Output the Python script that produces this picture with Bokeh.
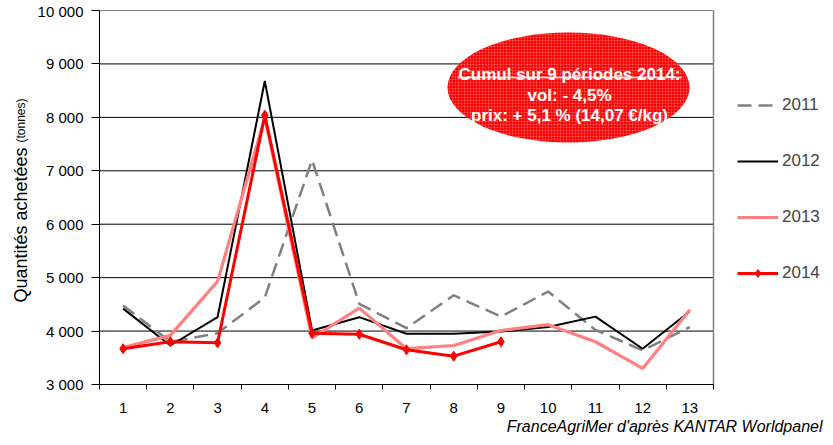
from math import pi
from bokeh.plotting import figure
from bokeh.models import FixedTicker, Legend, LegendItem, Label, Range1d, Title
from bokeh.embed import file_html
from bokeh.resources import INLINE

# ---- data ----
periods = list(range(1, 14))
period_labels = [str(i) for i in periods]
y_ticks = [3000, 4000, 5000, 6000, 7000, 8000, 9000, 10000]
y_tick_labels = ["3 000", "4 000", "5 000", "6 000", "7 000", "8 000", "9 000", "10 000"]

v2011 = [4480, 3800, 3960, 4630, 7200, 4510, 4055, 4670, 4270, 4740, 4020, 3640, 4075]
v2012 = [4420, 3730, 4260, 8680, 4010, 4260, 3950, 3950, 3990, 4075, 4270, 3670, 4370]
v2013 = [3690, 3920, 4930, 7990, 3870, 4430, 3670, 3730, 4010, 4120, 3800, 3300, 4400]
v2014 = [3670, 3800, 3780, 8040, 3960, 3940, 3650, 3530, 3800]
periods_2014 = periods[:len(v2014)]

note_lines = ["Cumul sur 9 périodes 2014:", "vol: - 4,5%", "prix: + 5,1 % (14,07 €/kg)"]
y_title_main = "Quantités achetées "
y_title_unit = "(tonnes)"
source_text = "FranceAgriMer d'après KANTAR Worldpanel"

FONT = "Liberation Sans"

# ---- layout (page pixels; canvas is placed at page (0, 2)) ----
W, H = 825, 435
CANVAS_LEFT, CANVAS_TOP = 0, 2
P_LEFT, P_RIGHT, F_TOP, F_BOT = 99, 713, 10, 384   # plot area
FRAME_RIGHT = CANVAS_LEFT + W                       # frame extends under legend
X0, XP1, Y0, Y1 = 0.5, 13.5, 3000, 10000
px_per_x = (P_RIGHT - P_LEFT) / (XP1 - X0)
X1 = X0 + (FRAME_RIGHT - P_LEFT) / px_per_x

def dx(px):
    return X0 + (px - P_LEFT) / px_per_x

def dy(py):
    return Y0 + (F_BOT - py) * (Y1 - Y0) / (F_BOT - F_TOP)

def cx(px):
    return px - CANVAS_LEFT

def cy(py):
    return py - CANVAS_TOP

p = figure(width=W, height=H, x_range=Range1d(X0, X1), y_range=Range1d(Y0, Y1),
           output_backend="svg", toolbar_location=None,
           min_border_left=P_LEFT - CANVAS_LEFT, min_border_right=0,
           min_border_top=F_TOP - CANVAS_TOP, min_border_bottom=(CANVAS_TOP + H) - F_BOT,
           margin=(CANVAS_TOP, 0, 0, CANVAS_LEFT))
p.background_fill_color = "white"
p.border_fill_color = "white"
p.outline_line_color = None

# grid (limited to the plot area)
p.xgrid.visible = False
p.ygrid.visible = False
p.segment(x0=[X0] * len(y_ticks), y0=y_ticks, x1=[XP1] * len(y_ticks), y1=y_ticks,
          line_color="#000000", line_width=1)
p.segment(x0=[XP1], y0=[Y0], x1=[XP1], y1=[Y1], line_color="#808080", line_width=1.5)

# y axis
p.yaxis.ticker = FixedTicker(ticks=y_ticks)
p.yaxis.major_label_overrides = {t: l for t, l in zip(y_ticks, y_tick_labels)}
p.yaxis.major_tick_out = 8
p.yaxis.major_tick_in = 0
p.yaxis.minor_tick_line_color = None
p.yaxis.major_label_standoff = 8
p.yaxis.axis_line_color = "#000000"
p.yaxis.major_tick_line_color = "#000000"

# x axis
p.xaxis.ticker = FixedTicker(ticks=periods, minor_ticks=[i + 0.5 for i in range(0, 14)])
p.xaxis.major_label_overrides = {t: l for t, l in zip(periods, period_labels)}
p.xaxis.bounds = (X0, XP1)
p.xaxis.major_tick_line_color = None
p.xaxis.major_tick_out = 0
p.xaxis.major_tick_in = 0
p.xaxis.minor_tick_out = 5
p.xaxis.minor_tick_in = 0
p.xaxis.minor_tick_line_color = "#000000"
p.xaxis.major_label_standoff = 13
p.xaxis.axis_line_color = "#000000"

for ax in (p.xaxis, p.yaxis):
    ax.major_label_text_font = FONT
    ax.major_label_text_font_size = "15px"
    ax.major_label_text_color = "#000000"

# series
r11 = p.line(periods, v2011, line_color="#808080", line_width=2.5, line_dash="14 7")
r12 = p.line(periods, v2012, line_color="#000000", line_width=2)
r13 = p.line(periods, v2013, line_color="#FF8080", line_width=3.2)
r14 = p.line(periods_2014, v2014, line_color="#FF0000", line_width=3)
r14m = p.scatter(periods_2014, v2014, marker="diamond", size=10, fill_color="#FF0000", line_color="#FF0000")

legend = Legend(items=[
    LegendItem(label="2011", renderers=[r11]),
    LegendItem(label="2012", renderers=[r12]),
    LegendItem(label="2013", renderers=[r13]),
    LegendItem(label="2014", renderers=[r14, r14m]),
], location=(737 - P_LEFT, F_BOT - 283))
legend.padding = 0
legend.margin = 0
legend.spacing = 36
legend.glyph_width = 41
legend.glyph_height = 20
legend.label_height = 20
legend.label_standoff = 4
legend.label_text_font = FONT
legend.label_text_font_size = "17px"
legend.background_fill_alpha = 0
legend.border_line_color = None
p.add_layout(legend, "center")

# annotation bubble
ecx, ecy, ew, eh = 568, 87, 242, 110
p.ellipse(x=[dx(ecx)], y=[dy(ecy)], width=[dx(ecx + ew / 2) - dx(ecx - ew / 2)],
          height=[dy(ecy - eh / 2) - dy(ecy + eh / 2)],
          fill_color="#FF0000", line_color=None,
          hatch_pattern="cross", hatch_color="white", hatch_alpha=0.3,
          hatch_scale=3, hatch_weight=0.6)
for txt, py in zip(note_lines, [74, 94.5, 115]):
    p.add_layout(Label(x=dx(569), y=dy(py), text=txt, text_align="center",
                       text_baseline="alphabetic", text_font=FONT, text_font_size="17px",
                       text_font_style="bold", text_color="white"))
p.segment(x0=[dx(457)], y0=[dy(77)], x1=[dx(681)], y1=[dy(77)], line_color="white", line_width=1.5)

# y title (two sizes) - labels in the left side panel, canvas units
p.add_layout(Label(x=cx(20), y=cy(302), x_units="canvas", y_units="canvas",
                   text=y_title_main, angle=pi / 2,
                   text_align="left", text_baseline="alphabetic",
                   text_font=FONT, text_font_size="18px", text_color="#000000"), "left")
p.add_layout(Label(x=cx(20), y=cy(142), x_units="canvas", y_units="canvas",
                   text=y_title_unit, angle=pi / 2,
                   text_align="left", text_baseline="alphabetic",
                   text_font=FONT, text_font_size="12px", text_color="#000000"), "left")

# source
src = Title(text=source_text, align="right", offset=FRAME_RIGHT - 822,
            text_font=FONT, text_font_size="16px", text_font_style="italic",
            text_color="#000000", standoff=0)
p.add_layout(src, "below")

open("out.html", "w").write(file_html(p, INLINE))
